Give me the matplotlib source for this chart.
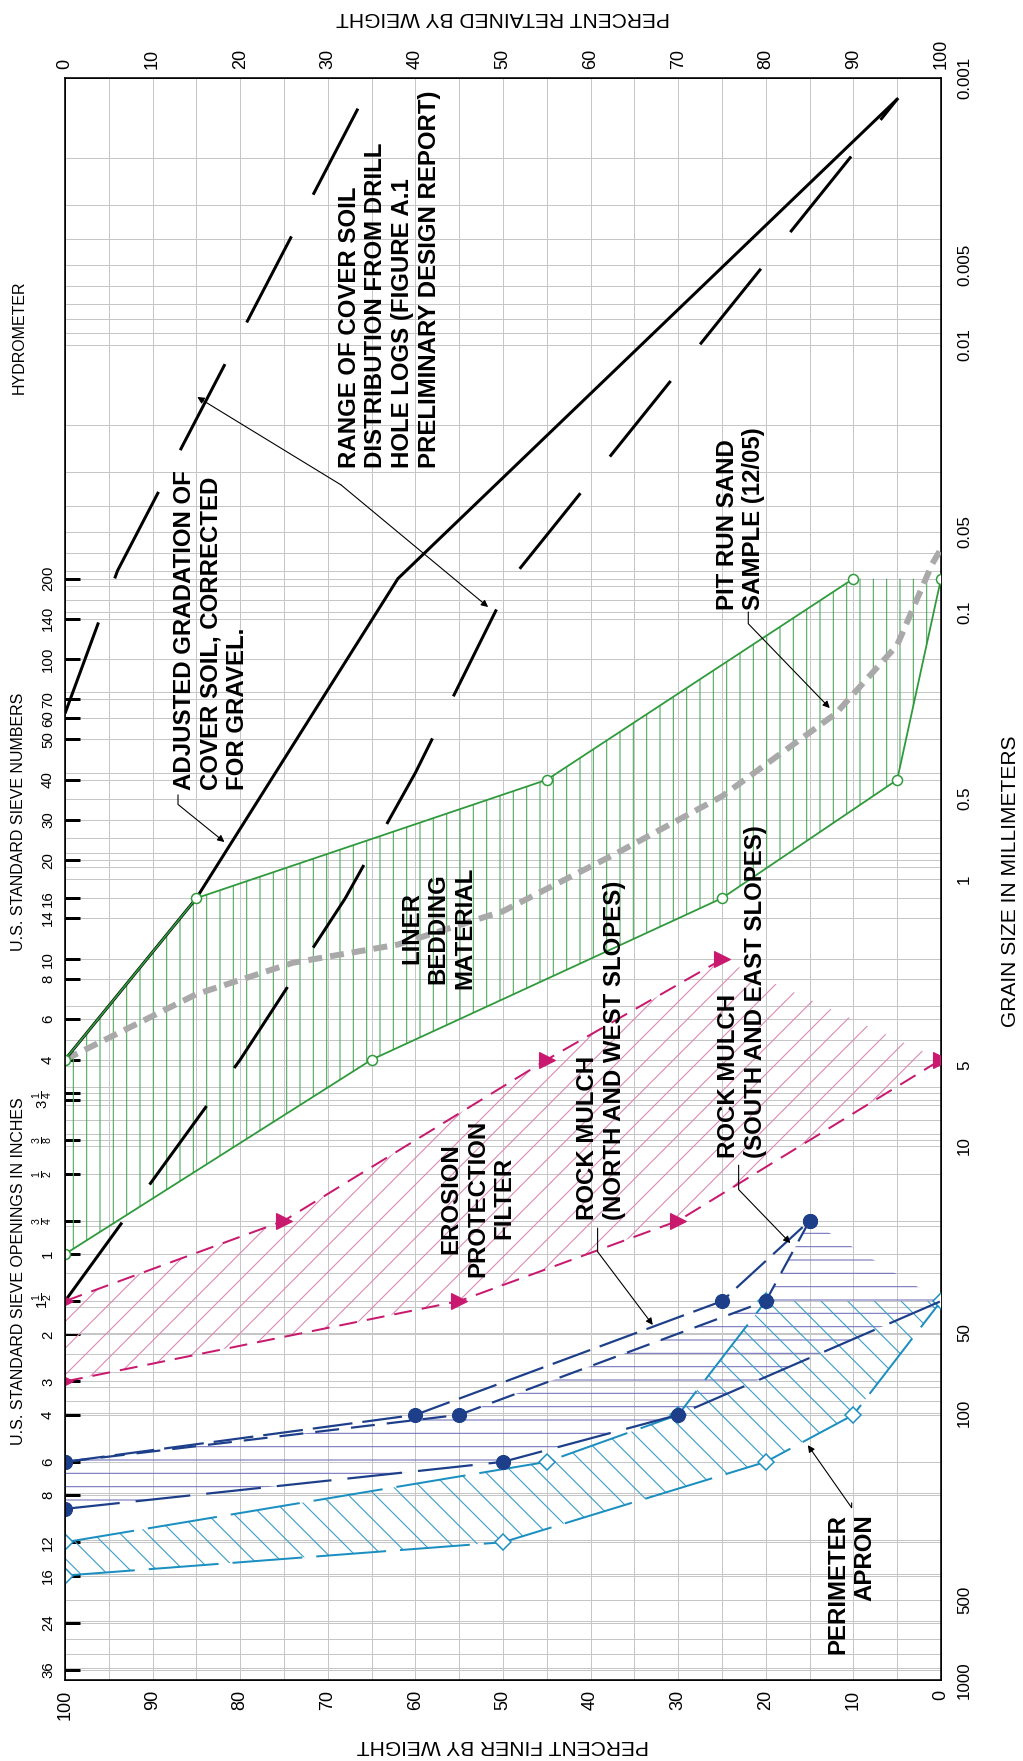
import numpy as np
import matplotlib
matplotlib.use("Agg")
import matplotlib.pyplot as plt
from matplotlib.ticker import LogLocator, NullLocator, NullFormatter, MultipleLocator

# --- Data (percent finer vs grain size in mm) ---
sieve_mm = [914.4, 609.6, 406.4, 304.8, 203.2, 152.4, 101.6, 76.2, 50.8, 38.1, 25.4,
            19.05, 12.7, 9.525, 6.73, 6.35, 4.75, 3.35, 2.36, 2.0, 1.4, 1.18, 0.85,
            0.6, 0.425, 0.3, 0.25, 0.212, 0.15, 0.106, 0.075]
sieve_labels = ["36", "24", "16", "12", "8", "6", "4", "3", "2", r"$1\frac{1}{2}$", "1",
                r"$\frac{3}{4}$", r"$\frac{1}{2}$", r"$\frac{3}{8}$", r"$3\,\frac{1}{4}$", "",
                "4", "6", "8", "10", "14", "16", "20", "30", "40", "50", "60", "70",
                "100", "140", "200"]
grain_ticks = [1000, 500, 100, 50, 10, 5, 1, 0.5, 0.1, 0.05, 0.01, 0.005, 0.001]
grain_labels = ["1000", "500", "100", "50", "10", "5", "1", "0.5", "0.1", "0.05",
                "0.01", "0.005", "0.001"]
pct_ticks = list(range(0, 101, 10))

# liner bedding material
liner_fine_pct = [100, 85, 45, 10]
liner_fine_mm = [4.75, 1.18, 0.425, 0.075]
liner_coarse_pct = [100, 65, 25, 5, 0]
liner_coarse_mm = [25.4, 4.75, 1.18, 0.425, 0.075]

# erosion protection filter
filter_fine_pct = [100, 75, 45, 25]
filter_fine_mm = [38.1, 19.05, 4.75, 2.0]
filter_coarse_pct = [100, 55, 30, 0]
filter_coarse_mm = [76.2, 38.1, 19.05, 4.75]

# rock mulch
mulch_nw_pct = [100, 60, 25, 15]
mulch_nw_mm = [152.4, 101.6, 38.1, 19.05]
mulch_se_pct = [100, 55, 20, 15]
mulch_se_mm = [152.4, 101.6, 38.1, 19.05]
mulch_coarse_pct = [100, 50, 30, 0]
mulch_coarse_mm = [228.6, 152.4, 101.6, 38.1]

# perimeter apron
apron_fine_pct = [100, 45, 30, 20]
apron_fine_mm = [304.8, 152.4, 101.6, 38.1]
apron_coarse_pct = [100, 50, 20, 10, 0]
apron_coarse_mm = [406.4, 304.8, 152.4, 101.6, 38.1]

# cover soil
adjusted_pct = [100, 85, 62, 5]
adjusted_mm = [4.75, 1.18, 0.075, 0.0012]
range_coarse_pct = [100, 80, 68, 60, 49, 5]
range_coarse_mm = [38.1, 4.75, 1.18, 0.4, 0.075, 0.0012]
range_fine_pct = [100, 94, 66]
range_fine_mm = [0.24, 0.07, 0.0012]

# pit run sand sample (12/05)
pitrun_pct = [100, 85, 74, 62, 50, 37, 25, 12, 5, 1, 0]
pitrun_mm = [4.75, 2.7, 2.06, 1.76, 1.32, 0.8, 0.49, 0.24, 0.133, 0.066, 0.058]

# --- Style ---
DPI = 80
PT = 72 / DPI          # points per pixel
plt.rcParams['font.family'] = ['Liberation Sans', 'DejaVu Sans']
plt.rcParams['mathtext.fontset'] = 'custom'
plt.rcParams['mathtext.rm'] = 'Liberation Sans'
plt.rcParams['lines.scale_dashes'] = False
plt.rcParams['hatch.linewidth'] = 1.1 * PT

GREEN, GREEN_H = '#2f9a3c', '#4fa95c'
PINK, PINK_H = '#c8196e', '#d98ab3'
NAVY, NAVY_H = '#1d3f8a', '#7474bb'
CYAN, CYAN_H = '#1b8fc0', '#3a9cc6'
GRAY = '#a9a9a9'
GRID = '#c6c6c6'


def dash(on, off):
    return (0, (on * PT, off * PT))


def band(fine_p, fine_d, coarse_p, coarse_d, hatch, color):
    xs = np.concatenate([fine_p, np.asarray(coarse_p)[::-1]])
    ys = np.concatenate([fine_d, np.asarray(coarse_d)[::-1]])
    ax.fill(xs, ys, facecolor='none', edgecolor=color, hatch=hatch, linewidth=0, zorder=2)


fig = plt.figure(figsize=(1023 / DPI, 1761 / DPI), dpi=DPI)
ax = fig.add_axes([65 / 1023, 1 - 1680 / 1761, 876 / 1023, 1602 / 1761])
ax.set_yscale('log')
ax.set_xlim(100, 0)
ax.set_ylim(1000, 0.001)

# grid
ax.set_xticks(pct_ticks)
ax.xaxis.set_minor_locator(MultipleLocator(5))
ax.set_yticks(sieve_mm, labels=sieve_labels)
ax.yaxis.set_minor_locator(LogLocator(base=10, subs=np.arange(1, 10)))
ax.yaxis.set_minor_formatter(NullFormatter())
ax.grid(True, which='both', color=GRID, lw=1.0 * PT, zorder=0)
ax.set_axisbelow(True)

ax.tick_params(axis='x', which='both', length=0, pad=10 * PT, labelsize=18 * PT, labelrotation=90)
ax.tick_params(axis='y', which='minor', length=0)
ax.tick_params(axis='y', which='major', direction='in', length=15 * PT, width=3 * PT,
               color='black', pad=10 * PT, labelsize=15 * PT, labelrotation=90)
for lbl in ax.get_yticklabels():
    lbl.set_va('center')
for s in ax.spines.values():
    s.set_linewidth(1.6 * PT)

# top: percent retained
top = ax.secondary_xaxis('top', functions=(lambda p: 100 - p, lambda r: 100 - r))
top.set_xticks(pct_ticks)
top.tick_params(length=0, pad=9 * PT, labelsize=18 * PT, labelrotation=90)

# right: grain size
right = ax.twinx()
right.set_yscale('log')
right.set_ylim(1000, 0.001)
right.set_yticks(grain_ticks, labels=grain_labels)
right.yaxis.set_minor_locator(NullLocator())
right.tick_params(length=0, pad=16 * PT, labelsize=17 * PT, labelrotation=90)
for lbl in right.get_yticklabels():
    lbl.set_va('center')

# --- Hatched bands ---
band(liner_fine_pct, liner_fine_mm, liner_coarse_pct, liner_coarse_mm, '|', GREEN_H)
band(filter_fine_pct, filter_fine_mm, filter_coarse_pct, filter_coarse_mm, '/', PINK_H)
band(mulch_se_pct, mulch_se_mm, mulch_coarse_pct, mulch_coarse_mm, '-', NAVY_H)
band(apron_fine_pct, apron_fine_mm, apron_coarse_pct, apron_coarse_mm, '\\', CYAN_H)

# --- Lines ---
ax.plot(pitrun_pct, pitrun_mm, color=GRAY, lw=6 * PT, ls=dash(14, 8), zorder=3)

ax.plot(adjusted_pct, adjusted_mm, color='black', lw=3 * PT, zorder=4)
ax.plot(range_coarse_pct, range_coarse_mm, color='black', lw=3 * PT, ls=dash(97, 47), zorder=4)
ax.plot(range_fine_pct, range_fine_mm, color='black', lw=3 * PT, ls=dash(97, 47), zorder=4)

for p, d in [(liner_fine_pct, liner_fine_mm), (liner_coarse_pct, liner_coarse_mm)]:
    ax.plot(p, d, color=GREEN, lw=1.8 * PT, marker='o', ms=10 * PT, mfc='white',
            mec=GREEN, mew=1.5 * PT, zorder=5)

for p, d in [(filter_fine_pct, filter_fine_mm), (filter_coarse_pct, filter_coarse_mm)]:
    ax.plot(p, d, color=PINK, lw=2 * PT, ls=dash(18, 10), marker='>', ms=16 * PT,
            mfc=PINK, mec=PINK, zorder=5)

for p, d in [(apron_fine_pct, apron_fine_mm), (apron_coarse_pct, apron_coarse_mm)]:
    ax.plot(p, d, color=CYAN, lw=2 * PT, ls=dash(70, 14), marker='D', ms=11 * PT,
            mfc='white', mec=CYAN, mew=1.5 * PT, zorder=5)

ax.plot(mulch_nw_pct, mulch_nw_mm, color=NAVY, lw=2.2 * PT, ls=dash(40, 10),
        marker='o', ms=14 * PT, mfc=NAVY, mec=NAVY, zorder=6)
ax.plot(mulch_se_pct, mulch_se_mm, color=NAVY, lw=2.2 * PT, ls=dash(24, 12),
        marker='o', ms=14 * PT, mfc=NAVY, mec=NAVY, zorder=6)
ax.plot(mulch_coarse_pct, mulch_coarse_mm, color=NAVY, lw=2.2 * PT, ls=dash(55, 16),
        marker='o', ms=14 * PT, mfc=NAVY, mec=NAVY, markevery=[0, 1, 2], zorder=6)

# --- Notes ---
note = dict(rotation=90, fontsize=24 * PT, fontweight='bold', color='black', zorder=10,
            linespacing=1.2)
ax.text(83.3, 0.464, "ADJUSTED GRADATION OF\nCOVER SOIL, CORRECTED\nFOR GRAVEL.",
        ha='center', va='bottom', multialignment='left', **note)
ax.text(63.0, 0.0289, "RANGE OF COVER SOIL\nDISTRIBUTION FROM DRILL\nHOLE LOGS (FIGURE A.1\n"
        "PRELIMINARY DESIGN REPORT)", ha='center', va='bottom', multialignment='left', **note)
ax.text(22.9, 0.0983, "PIT RUN SAND\nSAMPLE (12/05)", ha='center', va='bottom',
        multialignment='left', **note)
ax.text(57.4, 1.53, "LINER\nBEDDING\nMATERIAL", ha='center', va='center',
        multialignment='center', **note)
ax.text(52.9, 15.7, "EROSION\nPROTECTION\nFILTER", ha='center', va='center',
        multialignment='center', **note)
ax.text(38.8, 18.9, "ROCK MULCH\n(NORTH AND WEST SLOPES)", ha='center', va='bottom',
        multialignment='left', **note)
ax.text(22.7, 11.1, "ROCK MULCH\n(SOUTH AND EAST SLOPES)", ha='center', va='bottom',
        multialignment='left', **note)
ax.text(10.2, 239, "PERIMETER\nAPRON", ha='center', va='top', multialignment='right', **note)


def leader(start, end, conn='arc3'):
    ax.annotate('', xy=end, xytext=start, zorder=10,
                arrowprops=dict(arrowstyle='-|>', color='black', lw=1.1 * PT,
                                mutation_scale=14 * PT, shrinkA=0, shrinkB=0,
                                connectionstyle=conn))


leader((87.1, 0.484), (81.8, 0.727), 'angle,angleA=90,angleB=-39,rad=0')
leader((68.5, 0.0334), (84.9, 0.01566))
leader((68.5, 0.0334), (51.7, 0.0958))
leader((22.0, 0.100), (12.7, 0.229), 'angle,angleA=90,angleB=-46,rad=0')
leader((39.2, 20.3), (32.9, 46.8), 'angle,angleA=90,angleB=-53,rad=0')
leader((23.1, 11.8), (17.2, 23.1), 'angle,angleA=90,angleB=-46,rad=0')
leader((10.2, 217), (15.2, 132), 'angle,angleA=90,angleB=-55,rad=0')

# --- Axis titles and sieve headers ---
title = dict(fontsize=21 * PT, color='black', ha='center', va='center')
fig.text(1011 / 1023, 1 - 881 / 1761, "GRAIN SIZE IN MILLIMETERS", rotation=90, **title)
fig.text(503 / 1023, 1 - 1745 / 1761, "PERCENT FINER BY WEIGHT", rotation=180, **title)
fig.text(503 / 1023, 1 - 18 / 1761, "PERCENT RETAINED BY WEIGHT", rotation=180, **title)
head = dict(fontsize=16 * PT, color='black', ha='center', va='center', rotation=90)
fig.text(19 / 1023, 1 - 1271 / 1761, "U.S. STANDARD SIEVE OPENINGS IN INCHES", **head)
fig.text(19 / 1023, 1 - 822 / 1761, "U.S. STANDARD SIEVE NUMBERS", **head)
fig.text(19 / 1023, 1 - 337 / 1761, "HYDROMETER", **head)

fig.savefig("out.png", dpi=DPI)
